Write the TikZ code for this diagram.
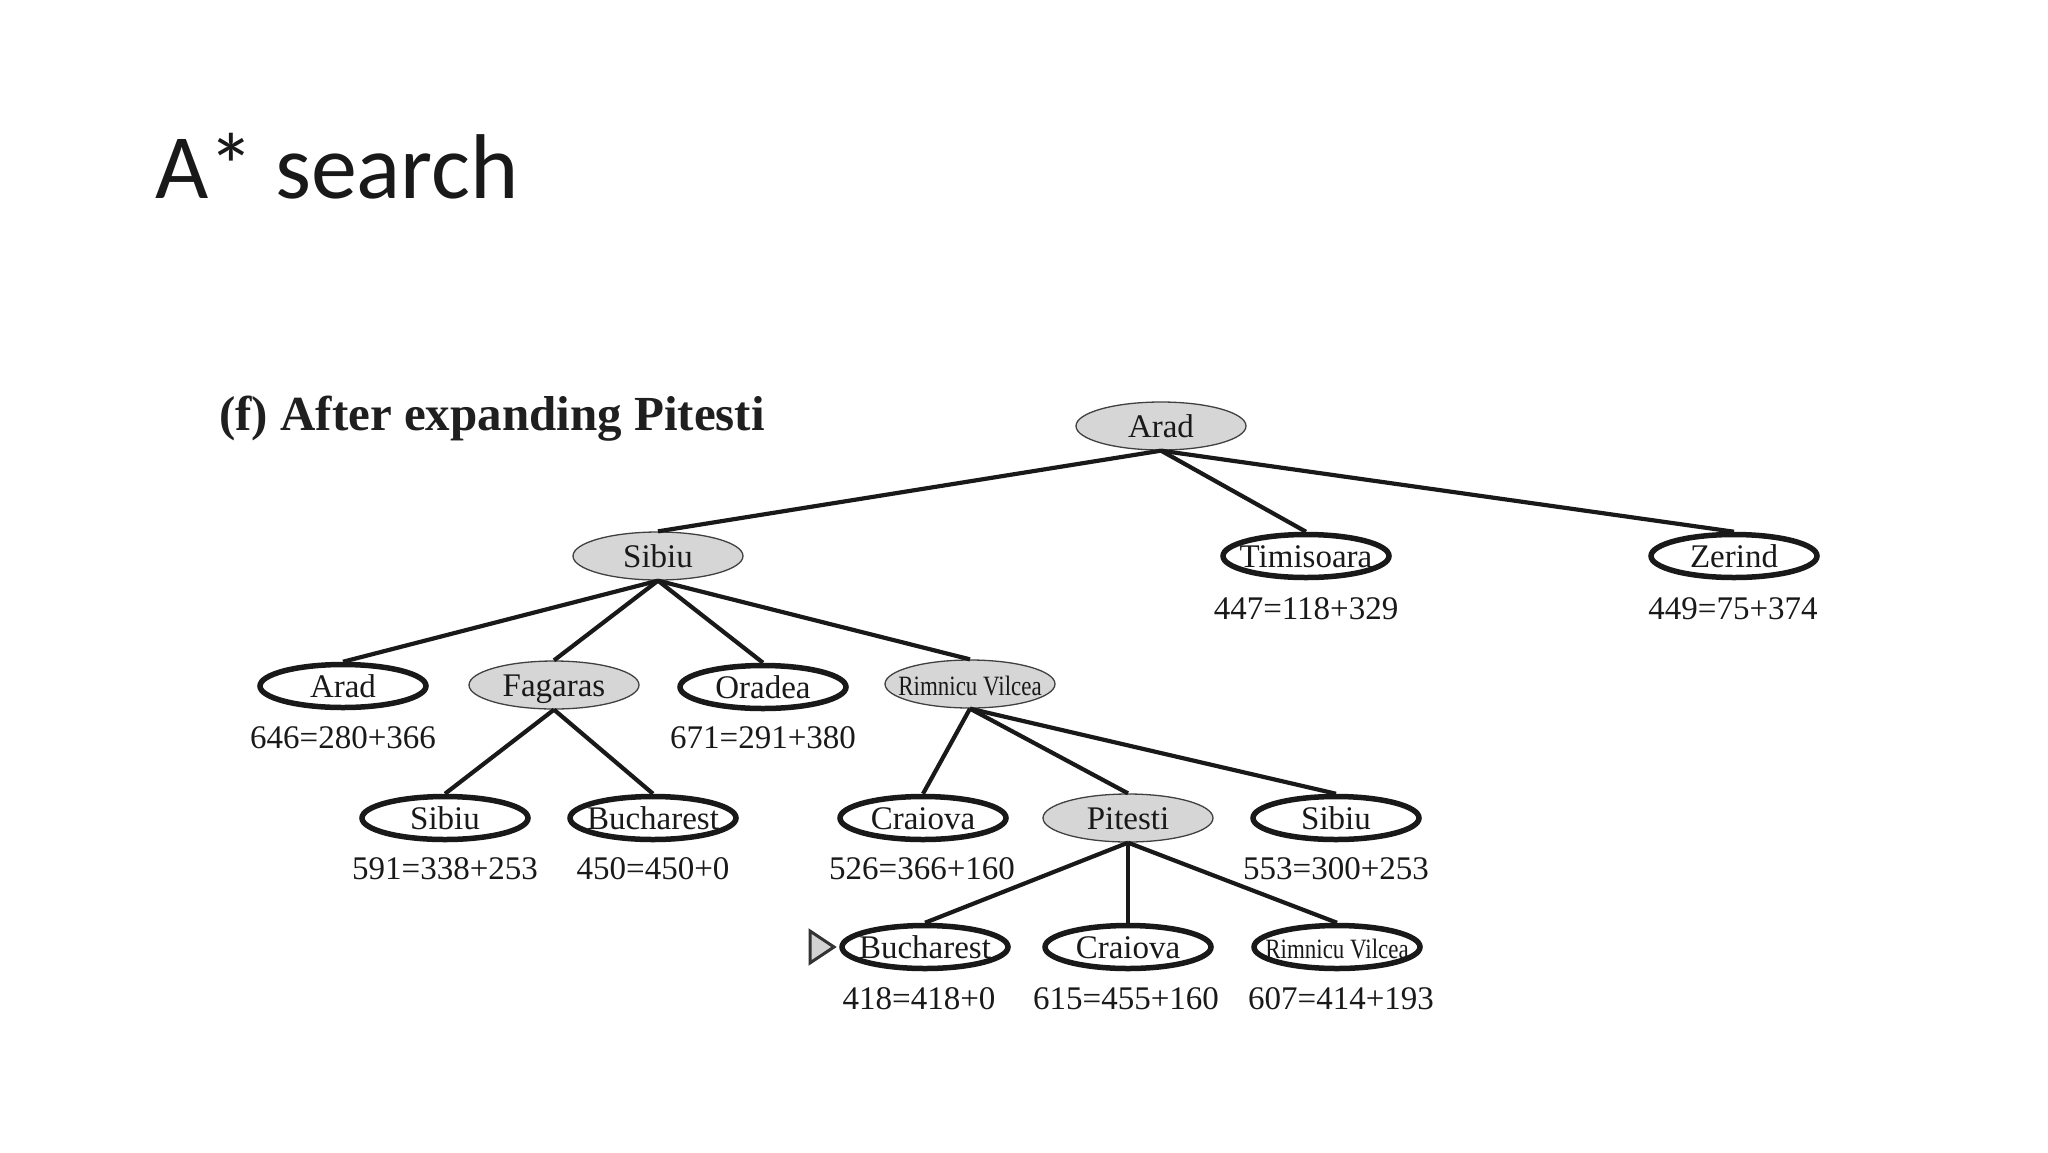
\documentclass[tikz,border=0pt]{standalone}
\usepackage{fontspec}
\setmainfont{Liberation Serif}
\newfontfamily\titlefont{Carlito}
\newfontfamily\condfont[FakeStretch=0.82]{Liberation Serif}
\usetikzlibrary{shapes.geometric}
\newcommand\nodefont{\fontsize{33}{38}\selectfont}
\newcommand\nb[1]{\makebox[0pt]{#1}}
\tikzset{
  openn/.style={ellipse, draw=black!90, line width=5.5pt, minimum width=166pt, minimum height=43pt,
     inner sep=0pt, font=\nodefont, text=black!90, text height=22pt, text depth=0pt},
  closedn/.style={ellipse, draw=black!75, line width=1.3pt, fill=gray!32, minimum width=170pt, minimum height=48pt,
     inner sep=0pt, font=\nodefont, text=black!90, text height=22pt, text depth=0pt},
  lbl/.style={inner sep=0pt, font=\nodefont, text=black!90},
  edge/.style={line width=4.2pt, draw=black!90}
}
\begin{document}
\begin{tikzpicture}[x=1pt,y=-1pt]
\useasboundingbox (0,0) rectangle (2048,1152);
% titles
\node[anchor=base west, inner sep=0pt, font=\titlefont\fontsize{92}{100}\selectfont, text=black!90] (title) at (155,198) {A* search};
\node[anchor=base west, inner sep=0pt, font=\bfseries\fontsize{49}{56}\selectfont, text=black!88] (sub) at (219,430) {(f) After expanding Pitesti};
% level 0
\node[closedn] (arad0) at (1161,426) {\nb{Arad}};
% level 1
\node[closedn] (sibiu1) at (658,556) {\nb{Sibiu}};
\node[openn] (timi) at (1306,556) {\nb{Timisoara}};
\node[openn] (zer) at (1734,556) {\nb{Zerind}};
% level 2
\node[openn] (arad2) at (343,686) {\nb{Arad}};
\node[closedn] (fag) at (554,685) {\nb{Fagaras}};
\node[openn] (ora) at (763,687) {\nb{Oradea}};
\node[closedn] (rim) at (970,684) {\nb{\condfont\fontsize{28}{32}\selectfont Rimnicu Vilcea}};
% level 3
\node[openn] (sibiu3a) at (445,818) {\nb{Sibiu}};
\node[openn] (buc1) at (653,818) {\nb{Bucharest}};
\node[openn] (cra1) at (923,818) {\nb{Craiova}};
\node[closedn] (pit) at (1128,818) {\nb{Pitesti}};
\node[openn] (sibiu3b) at (1336,818) {\nb{Sibiu}};
% level 4
\node[openn] (buc2) at (925,947) {\nb{Bucharest}};
\node[openn] (cra2) at (1128,947) {\nb{Craiova}};
\node[openn] (rim2) at (1337,947) {\nb{\condfont\fontsize{28}{32}\selectfont Rimnicu Vilcea}};
% labels
\node[lbl] (l1) at (1306,609) {447=118+329};
\node[lbl] (l2) at (1733,609) {449=75+374};
\node[lbl] (l3) at (343,738) {646=280+366};
\node[lbl] (l4) at (763,738) {671=291+380};
\node[lbl] (l5) at (445,869) {591=338+253};
\node[lbl] (l6) at (653,869) {450=450+0};
\node[lbl] (l7) at (922,869) {526=366+160};
\node[lbl] (l8) at (1336,869) {553=300+253};
\node[lbl] (l9) at (919,999) {418=418+0};
\node[lbl] (l10) at (1126,999) {615=455+160};
\node[lbl] (l11) at (1341,999) {607=414+193};
% edges
\draw[edge] (arad0.south) -- (sibiu1.north);
\draw[edge] (arad0.south) -- (timi.north);
\draw[edge] (arad0.south) -- (zer.north);
\draw[edge] (sibiu1.south) -- (arad2.north);
\draw[edge] (sibiu1.south) -- (fag.north);
\draw[edge] (sibiu1.south) -- (ora.north);
\draw[edge] (sibiu1.south) -- (rim.north);
\draw[edge] (fag.south) -- (sibiu3a.north);
\draw[edge] (fag.south) -- (buc1.north);
\draw[edge] (rim.south) -- (cra1.north);
\draw[edge] (rim.south) -- (pit.north);
\draw[edge] (rim.south) -- (sibiu3b.north);
\draw[edge] (pit.south) -- (buc2.north);
\draw[edge] (pit.south) -- (cra2.north);
\draw[edge] (pit.south) -- (rim2.north);
% goal marker
\draw[line width=3pt, draw=black!80, fill=gray!35, line join=miter] (810,931) -- (834,947) -- (810,963) -- cycle;
\end{tikzpicture}
\end{document}
